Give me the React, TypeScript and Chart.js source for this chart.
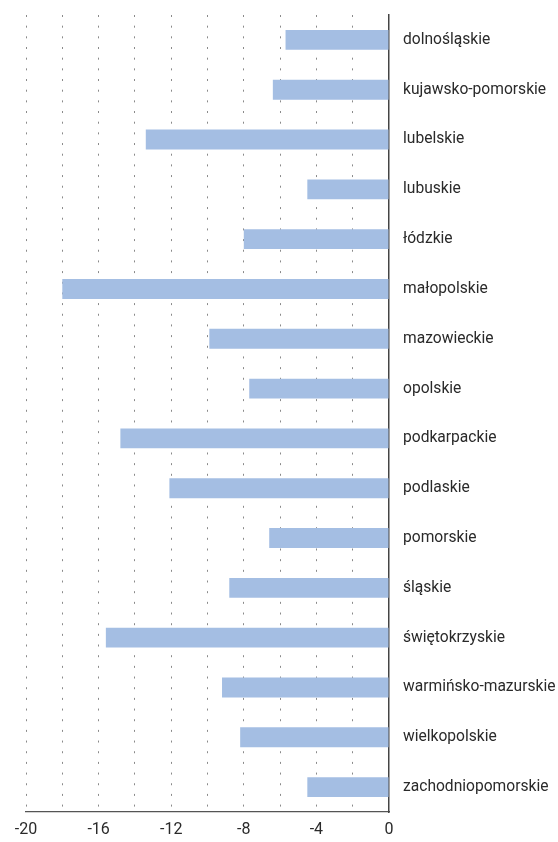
import React, { useEffect, useRef } from "react";
import { Chart, registerables } from "chart.js";

Chart.register(...registerables);

const regions = [
  "dolnośląskie",
  "kujawsko-pomorskie",
  "lubelskie",
  "lubuskie",
  "łódzkie",
  "małopolskie",
  "mazowieckie",
  "opolskie",
  "podkarpackie",
  "podlaskie",
  "pomorskie",
  "śląskie",
  "świętokrzyskie",
  "warmińsko-mazurskie",
  "wielkopolskie",
  "zachodniopomorskie",
];

const values = [
  -5.7, -6.4, -13.4, -4.5, -8.0, -18.0, -9.9, -7.7, -14.8, -12.1, -6.6, -8.8,
  -15.6, -9.2, -8.2, -4.5,
];

const xLabelTicks = [-20, -16, -12, -8, -4, 0];
const xMin = -20;
const xMax = 0;
const xGridStep = 2;

export default function App() {
  const ref = useRef<HTMLCanvasElement>(null);

  useEffect(() => {
    document.body.style.margin = "0";
    if (!ref.current) return;
    Chart.defaults.font.family = "Roboto";
    const chart = new Chart(ref.current, {
      type: "bar",
      data: {
        labels: regions,
        datasets: [
          {
            data: values,
            backgroundColor: "#a4bee3",
            borderWidth: 0,
            barPercentage: 0.4,
            categoryPercentage: 1,
          },
        ],
      },
      options: {
        indexAxis: "y",
        animation: false,
        responsive: false,
        maintainAspectRatio: false,
        layout: { padding: { left: 26, top: 15, right: 0, bottom: 0 } },
        plugins: {
          legend: { display: false },
          tooltip: { enabled: false },
        },
        scales: {
          x: {
            type: "linear",
            position: "bottom",
            min: xMin,
            max: xMax,
            afterFit: (s: any) => {
              s.height = 30;
              s.paddingLeft = 0;
              s.paddingRight = 0;
            },
            ticks: {
              stepSize: xGridStep,
              autoSkip: false,
              maxRotation: 0,
              padding: 8,
              color: "#2a2a2a",
              font: { size: 16 },
              callback: (v: any) => (xLabelTicks.includes(Number(v)) ? String(v) : ""),
            },
            grid: {
              drawTicks: false,
              color: (ctx: any) =>
                ctx.tick && ctx.tick.value === 0 ? "rgba(0,0,0,0)" : "#8a8a8a",
              lineWidth: 1,
            },
            border: {
              display: true,
              color: "#555",
              width: 1.2,
              dash: [2, 8.67],
            },
          },
          y: {
            position: "right",
            afterFit: (s: any) => {
              s.width = 169;
              s.paddingTop = 0;
              s.paddingBottom = 0;
            },
            ticks: {
              padding: 14,
              color: "#2a2a2a",
              font: { size: 15.6 },
              autoSkip: false,
            },
            grid: { display: false, drawTicks: false },
            border: { display: true, color: "#444", width: 1.5 },
          },
        },
      },
    });
    return () => chart.destroy();
  }, []);

  return <canvas ref={ref} width={558} height={842} style={{ display: "block" }} />;
}
